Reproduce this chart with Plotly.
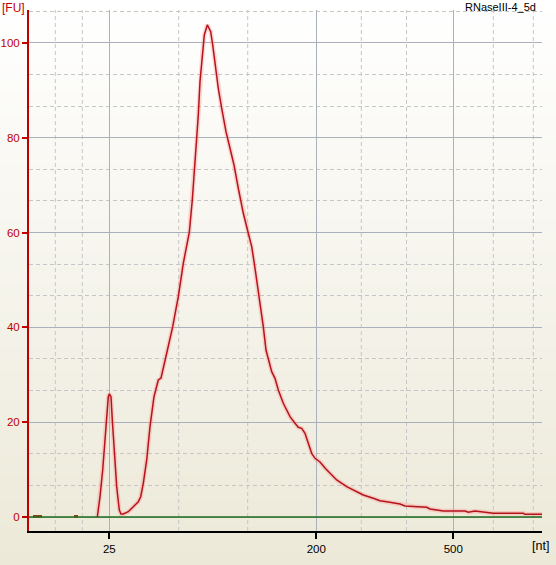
import base64
import struct
import zlib
import plotly.graph_objects as go

# ---- data: migration time (s) vs fluorescence (FU) ----
time_s = [23.83, 24.10, 24.37, 24.60, 24.77, 24.93, 25.03, 25.20, 25.33, 25.53,
          25.77, 26.03, 26.20, 26.43, 26.93, 27.43, 27.93, 28.17, 28.43, 28.77,
          29.10, 29.50, 29.93, 30.20, 30.37, 30.77, 31.37, 31.93, 32.43, 33.03,
          33.33, 33.60, 33.77, 33.93, 34.10, 34.33, 34.53, 34.83, 35.17, 35.37,
          35.60, 35.93, 36.27, 36.70, 37.10, 37.50, 37.93, 38.27, 38.43, 38.93,
          39.27, 39.53, 39.77, 39.93, 40.10, 40.43, 40.70, 41.03, 41.27, 41.60,
          41.93, 42.43, 43.10, 43.60, 43.93, 44.27, 44.60, 44.93, 45.27, 45.60,
          45.77, 46.10, 46.60, 47.10, 47.77, 48.77, 49.77, 50.43, 51.43, 52.10,
          52.77, 54.10, 54.60, 55.60, 56.77, 57.10, 57.77, 58.43, 60.60, 60.93,
          61.60, 62.60, 63.43, 66.43, 66.60, 68.33]
fu = [0.00, 4.28, 9.92, 16.94, 21.88, 25.38, 25.95, 25.38, 20.46, 13.50,
      6.39, 1.48, 0.63, 0.63, 1.12, 2.17, 3.23, 4.28, 7.11, 12.03,
      19.05, 25.38, 28.90, 29.32, 31.01, 34.54, 40.15, 46.48, 53.52, 60.06,
      66.88, 74.26, 79.18, 84.81, 91.84, 97.47, 101.69, 103.80, 102.39, 99.58,
      95.36, 90.44, 86.22, 81.29, 77.78, 74.26, 69.35, 65.82, 64.07, 59.85,
      57.03, 53.52, 50.00, 47.89, 44.37, 40.15, 35.23, 32.43, 30.65, 29.26,
      26.79, 23.99, 21.16, 19.77, 18.92, 18.71, 17.66, 15.55, 13.44, 12.38,
      12.17, 11.60, 10.34, 9.28, 7.81, 6.39, 5.34, 4.64, 3.95, 3.44,
      3.23, 2.74, 2.32, 2.17, 2.05, 1.69, 1.48, 1.27, 1.27, 0.99,
      1.27, 0.99, 0.78, 0.78, 0.57, 0.57]

# small peak-table markers sitting on the baseline
marker_time = [17.4, 18.3, None, 21.5, 21.9]
marker_fu = [0.15, 0.15, None, 0.15, 0.15]

# ladder (nt) tick labels at their migration times
ladder_labels = ["25", "200", "500"]
ladder_time = [25.03, 45.73, 59.43]
minor_time = [19.63, 22.33, 31.97, 38.87, 50.23, 54.75, 63.43, 67.43]
y_major = [0, 20, 40, 60, 80, 100]

sample_name = "RNaseIII-4_5d"

RED = "#c00000"
FONT = "Liberation Sans, Arial, sans-serif"
MINOR_GRID = dict(color="#c6c6c6", width=1, dash="4px,3px")


def gradient_png(h, top, bottom, w=4):
    raw = b""
    for i in range(h):
        f = i / (h - 1)
        c = bytes(round(top[k] + (bottom[k] - top[k]) * f) for k in range(3))
        raw += b"\x00" + c * w

    def chunk(tag, data):
        return (struct.pack(">I", len(data)) + tag + data
                + struct.pack(">I", zlib.crc32(tag + data) & 0xFFFFFFFF))

    png = (b"\x89PNG\r\n\x1a\n"
           + chunk(b"IHDR", struct.pack(">IIBBBBB", w, h, 8, 2, 0, 0, 0))
           + chunk(b"IDAT", zlib.compress(raw))
           + chunk(b"IEND", b""))
    return "data:image/png;base64," + base64.b64encode(png).decode()


W, H = 556, 565
ML, MR, MT, MB = 29, 14, 10, 34
PW, PH = W - ML - MR, H - MT - MB

fig = go.Figure()

# dashed minor vertical grid lines (uneven spacing between ladder bands)
for t in minor_time:
    fig.add_shape(type="line", xref="x", x0=t, x1=t, yref="paper", y0=0, y1=1,
                  line=MINOR_GRID, layer="below")

fig.add_trace(go.Scatter(x=marker_time, y=marker_fu, mode="lines",
                         line=dict(color="#8b3a0f", width=2.5),
                         hoverinfo="skip", showlegend=False))
fig.add_trace(go.Scatter(x=time_s, y=fu, mode="lines",
                         line=dict(color="rgba(255,140,140,0.35)", width=4.5),
                         hoverinfo="skip", showlegend=False))
fig.add_trace(go.Scatter(x=time_s, y=fu, mode="lines",
                         line=dict(color="#b3151b", width=1.5),
                         showlegend=False))

fig.add_shape(type="line", xref="paper", x0=0, x1=1, yref="y", y0=0, y1=0,
              line=dict(color="#1f6e1f", width=1.5), layer="above")

fig.add_layout_image(dict(
    source=gradient_png(H, (255, 255, 255), (236, 233, 216)),
    xref="paper", yref="paper",
    x=-ML / PW, y=1 + MT / PH, sizex=W / PW, sizey=H / PH,
    xanchor="left", yanchor="top", sizing="stretch", layer="below"))

fig.update_layout(
    width=W, height=H,
    margin=dict(l=ML, r=MR, t=MT, b=MB, pad=0, autoexpand=False),
    paper_bgcolor="#f5f3ea",
    plot_bgcolor="rgba(0,0,0,0)",
    font=dict(family=FONT, size=11.5),
    showlegend=False,
    xaxis=dict(
        range=[17.0, 68.3], tickmode="array", tickvals=ladder_time,
        ticktext=ladder_labels, ticks="outside", ticklen=6, tickwidth=1.5,
        tickcolor="black", tickfont=dict(color="black", size=11.5),
        showline=True, linecolor="black", linewidth=2, automargin=False,
        showgrid=True, gridcolor="#aab1bd", gridwidth=1, zeroline=False,
    ),
    yaxis=dict(
        range=[-2.95, 106.95], tickmode="array", tickvals=y_major,
        ticks="outside", ticklen=5, tickwidth=1.5, tickcolor=RED,
        tickfont=dict(color=RED, size=11.5), automargin=False,
        showline=True, linecolor=RED, linewidth=2,
        showgrid=True, gridcolor="#aab1bd", gridwidth=1, zeroline=False,
        minor=dict(tick0=0, dtick=20 / 3, showgrid=True, gridcolor="#c6c6c6",
                   griddash="4px,3px", gridwidth=1, ticks=""),
    ),
    annotations=[
        dict(text="[FU]", xref="paper", yref="paper", x=-ML / PW,
             y=1 + 2 / PH, xanchor="left", yanchor="middle", showarrow=False,
             font=dict(color=RED, size=12)),
        dict(text=sample_name, xref="paper", yref="paper",
             x=(538 - ML) / PW, y=1 + 3 / PH, xanchor="right",
             yanchor="middle", showarrow=False,
             font=dict(color="black", size=11)),
        dict(text="[nt]", xref="paper", yref="paper",
             x=(551 - ML) / PW, y=-(546 - (MT + PH)) / PH, xanchor="right",
             yanchor="middle", showarrow=False,
             font=dict(color="black", size=12.5)),
    ],
)

fig.write_html("out.html",
               config={"displayModeBar": False},
               post_script="document.body.style.margin='0';"
                           "document.body.style.overflow='hidden';")
